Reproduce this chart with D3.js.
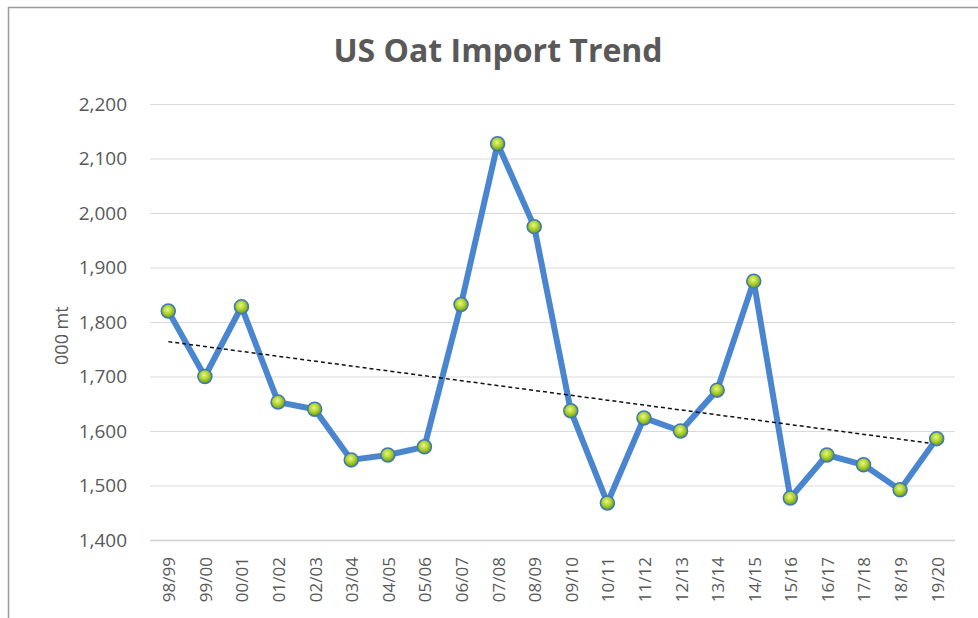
<!DOCTYPE html>
<html>
<head>
<meta charset="utf-8">
<script src="https://cdn.jsdelivr.net/npm/d3@7"></script>
<style>
  body { margin: 0; background: #fff; }
  svg { display: block; font-family: "Open Sans", "Noto Sans", sans-serif; }
</style>
</head>
<body>
<div id="chart"></div>
<script>
// marketing years on the x axis
var years = ["98/99", "99/00", "00/01", "01/02", "02/03", "03/04", "04/05", "05/06",
    "06/07", "07/08", "08/09", "09/10", "10/11", "11/12", "12/13", "13/14",
    "14/15", "15/16", "16/17", "17/18", "18/19", "19/20"];

// imports, 000 mt
var imports = [1820, 1700, 1828, 1653, 1640, 1547, 1556, 1571, 1832, 2127, 1975,
    1637, 1468, 1624, 1600, 1675, 1875, 1477, 1556, 1538, 1492, 1586];

// linear trendline, value at first and last year
var trend = [1764, 1576];

var yTicks = [1400, 1500, 1600, 1700, 1800, 1900, 2000, 2100, 2200];

var W = 978, H = 618;
var margin = { top: 104, right: 23, bottom: 78, left: 150 },
    width = W - margin.left - margin.right,
    height = H - margin.top - margin.bottom;

var root = d3.select("#chart").append("svg")
    .attr("width", W)
    .attr("height", H);

// gradient for the round markers
var defs = root.append("defs");
var grad = defs.append("radialGradient")
    .attr("id", "dot")
    .attr("cx", "45%").attr("cy", "40%").attr("r", "60%");
grad.append("stop").attr("offset", "0%").attr("stop-color", "#e9f77e");
grad.append("stop").attr("offset", "55%").attr("stop-color", "#a9cf2c");
grad.append("stop").attr("offset", "100%").attr("stop-color", "#6a9418");

// chart frame
root.append("rect")
    .attr("x", 8.5).attr("y", 7.5)
    .attr("width", W).attr("height", H)
    .attr("fill", "none")
    .attr("stroke", "#9a9a9a")
    .attr("stroke-width", 1.5);

var svg = root.append("g")
    .attr("transform", "translate(" + margin.left + "," + margin.top + ")");

var x = d3.scaleBand().domain(years).range([0, width]);
var y = d3.scaleLinear().domain([1400, 2200]).range([height, 0]);

// gridlines
svg.append("g")
    .selectAll("line")
    .data(yTicks)
    .enter()
    .append("line")
    .attr("x1", 0)
    .attr("x2", width)
    .attr("y1", function (d) { return y(d) + 0.5; })
    .attr("y2", function (d) { return y(d) + 0.5; })
    .attr("stroke", function (d) { return d == 1400 ? "#cfcfcf" : "#dadada"; })
    .attr("stroke-width", function (d) { return d == 1400 ? 1.5 : 1; });

// y axis labels
var yAxis = svg.append("g")
    .attr("transform", "translate(-20,0)")
    .call(d3.axisLeft(y).tickValues(yTicks).tickSize(0).tickFormat(d3.format(",")))
    .attr("font-family", null);
yAxis.select(".domain").remove();
yAxis.selectAll("text")
    .attr("fill", "#595959")
    .style("font-size", "19px");

// x axis labels, rotated
var xAxis = svg.append("g")
    .attr("transform", "translate(0," + height + ")")
    .call(d3.axisBottom(x).tickSize(0))
    .attr("font-family", null);
xAxis.select(".domain").remove();
xAxis.selectAll("text")
    .attr("fill", "#595959")
    .style("font-size", "17px")
    .attr("transform", "rotate(-90)")
    .attr("text-anchor", "end")
    .attr("x", -17)
    .attr("y", 1)
    .attr("dy", "0.35em");

var cx = function (d, i) { return x(years[i]) + x.bandwidth() / 2; };

// data line
var line = d3.line()
    .x(cx)
    .y(function (d) { return y(d); });

svg.append("path")
    .datum(imports)
    .attr("fill", "none")
    .attr("stroke", "#4a86cf")
    .attr("stroke-width", 6)
    .attr("stroke-linejoin", "round")
    .attr("d", line);

// dotted trendline
svg.append("line")
    .attr("x1", x(years[0]) + x.bandwidth() / 2)
    .attr("x2", x(years[years.length - 1]) + x.bandwidth() / 2)
    .attr("y1", y(trend[0]))
    .attr("y2", y(trend[1]))
    .attr("stroke", "#111")
    .attr("stroke-width", 1.5)
    .attr("stroke-dasharray", "4,3");

// markers
svg.append("g")
    .selectAll("circle")
    .data(imports)
    .enter()
    .append("circle")
    .attr("cx", cx)
    .attr("cy", function (d) { return y(d); })
    .attr("r", 7)
    .attr("fill", "url(#dot)")
    .attr("stroke", "#3f78b8")
    .attr("stroke-width", 1.5);

// title
root.append("text")
    .attr("x", 498)
    .attr("y", 62)
    .attr("text-anchor", "middle")
    .attr("fill", "#595959")
    .style("font-size", "32px")
    .style("font-weight", "bold")
    .text("US Oat Import Trend");

// y axis title
root.append("text")
    .attr("transform", "translate(68," + (margin.top + y(1775)) + ") rotate(-90)")
    .attr("text-anchor", "middle")
    .attr("fill", "#595959")
    .style("font-size", "18px")
    .text("000 mt");
</script>
</body>
</html>
